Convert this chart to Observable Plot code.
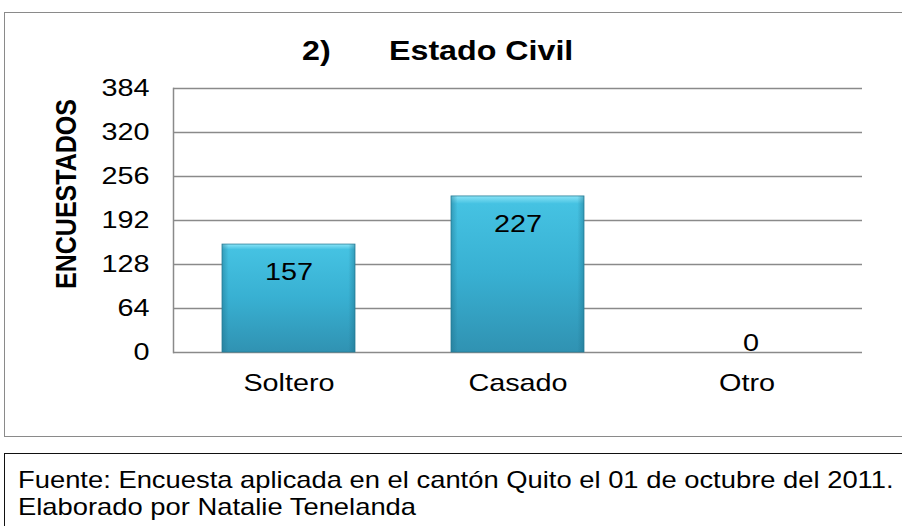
<!DOCTYPE html>
<html><head><meta charset="utf-8">
<script src="https://cdn.jsdelivr.net/npm/d3@7"></script>
<script src="https://cdn.jsdelivr.net/npm/@observablehq/plot@0.6"></script>
<style>
body{margin:0;background:#fff;font-family:"Liberation Sans",Arial,sans-serif;}
#wrap{position:relative;width:902px;height:526px;overflow:hidden;}
#box{position:absolute;left:4px;top:12px;width:904px;height:425px;border:1.5px solid #8a8a8a;box-sizing:border-box;}
#chart{position:absolute;left:0;top:0;}
.t{position:absolute;font-size:28px;font-weight:bold;line-height:28px;white-space:nowrap;transform:scaleX(1.15);transform-origin:left top;color:#000;}
#ylab{position:absolute;left:66px;top:194px;transform:translate(-50%,-50%) scaleX(1.2) rotate(-90deg);font-size:25px;font-weight:bold;white-space:nowrap;line-height:25px;}
#cap{position:absolute;left:4px;top:453px;width:904px;height:80px;border:1.5px solid #111;box-sizing:border-box;}
#capt{position:absolute;left:13px;top:12px;font-size:24px;line-height:27px;white-space:nowrap;transform:scaleX(1.14);transform-origin:left top;color:#000;}
</style></head>
<body><div id="wrap">
<div id="box"></div>
<div id="chart"></div>
<div class="t" style="left:302px;top:37px">2)</div>
<div class="t" style="left:389px;top:37px">Estado Civil</div>
<div id="ylab">ENCUESTADOS</div>
<div id="cap"><div id="capt">Fuente: Encuesta aplicada en el cantón Quito el 01 de octubre del 2011.<br>Elaborado por Natalie Tenelanda</div></div>
</div>
<script>
const categories = ["Soltero", "Casado", "Otro"];
const values = [157, 227, 0];
const yTicks = [0, 64, 128, 192, 256, 320, 384];

const data = categories.map((c, i) => ({cat: c, val: values[i]}));

const chart = Plot.plot({
  width: 902, height: 440,
  marginLeft: 173, marginRight: 40, marginTop: 88, marginBottom: 88,
  style: {fontFamily: "'Liberation Sans', Arial, sans-serif", fontSize: "24px", color: "#000", background: "transparent", overflow: "visible"},
  x: {domain: categories, paddingInner: 0.42, paddingOuter: 0.21, label: null},
  y: {domain: [0, 384], ticks: yTicks, label: null},
  marks: [
    Plot.gridY(yTicks, {stroke: "#8a8a8a", strokeOpacity: 1, strokeWidth: 1.5}),
    Plot.frame({anchor: "left", stroke: "#8a8a8a", strokeWidth: 1.5}),
    Plot.barY(data, {x: "cat", y: "val", fill: "url(#barGrad)", stroke: "#2a7f99", strokeWidth: 0.8, filter: d => d.val > 0, style: "filter:url(#shadow)"}),
    Plot.barY(data, {x: "cat", y: "val", fill: "url(#sideGrad)", filter: d => d.val > 0}),
    Plot.axisY({ticks: yTicks, tickSize: 0, tickPadding: 24, label: null}),
    Plot.axisX({tickSize: 0, tickPadding: 21, label: null}),
    Plot.text(data.filter(d => d.val > 0), {x: "cat", y: "val", text: d => String(d.val), dy: 28, fill: "#000"}),
    Plot.text(data.filter(d => d.val === 0), {x: "cat", y: "val", text: d => String(d.val), dy: -9, dx: 4, fill: "#000"})
  ]
});
const ns = "http://www.w3.org/2000/svg";
const defs = document.createElementNS(ns, "defs");
defs.innerHTML = `
<linearGradient id="barGrad" x1="0" y1="0" x2="0" y2="1">
  <stop offset="0" stop-color="#8ae4f7"/>
  <stop offset="0.05" stop-color="#45c2e2"/>
  <stop offset="0.5" stop-color="#38b0d2"/>
  <stop offset="1" stop-color="#3092b2"/>
</linearGradient>
<linearGradient id="sideGrad" x1="0" y1="0" x2="1" y2="0">
  <stop offset="0" stop-color="#1d6e88" stop-opacity="0.45"/>
  <stop offset="0.05" stop-color="#1d6e88" stop-opacity="0"/>
  <stop offset="0.95" stop-color="#1d6e88" stop-opacity="0"/>
  <stop offset="1" stop-color="#1d6e88" stop-opacity="0.45"/>
</linearGradient>
<filter id="shadow" x="-10%" y="-10%" width="125%" height="125%">
  <feDropShadow dx="2" dy="3" stdDeviation="2" flood-color="#000" flood-opacity="0.35"/>
</filter>`;
chart.insertBefore(defs, chart.firstChild);
chart.querySelectorAll("text").forEach(t => {
  const tr = t.getAttribute("transform") || "";
  t.setAttribute("transform", (tr + " scale(1.2,1)").trim());
});
document.getElementById("chart").appendChild(chart);
</script>
</body></html>
